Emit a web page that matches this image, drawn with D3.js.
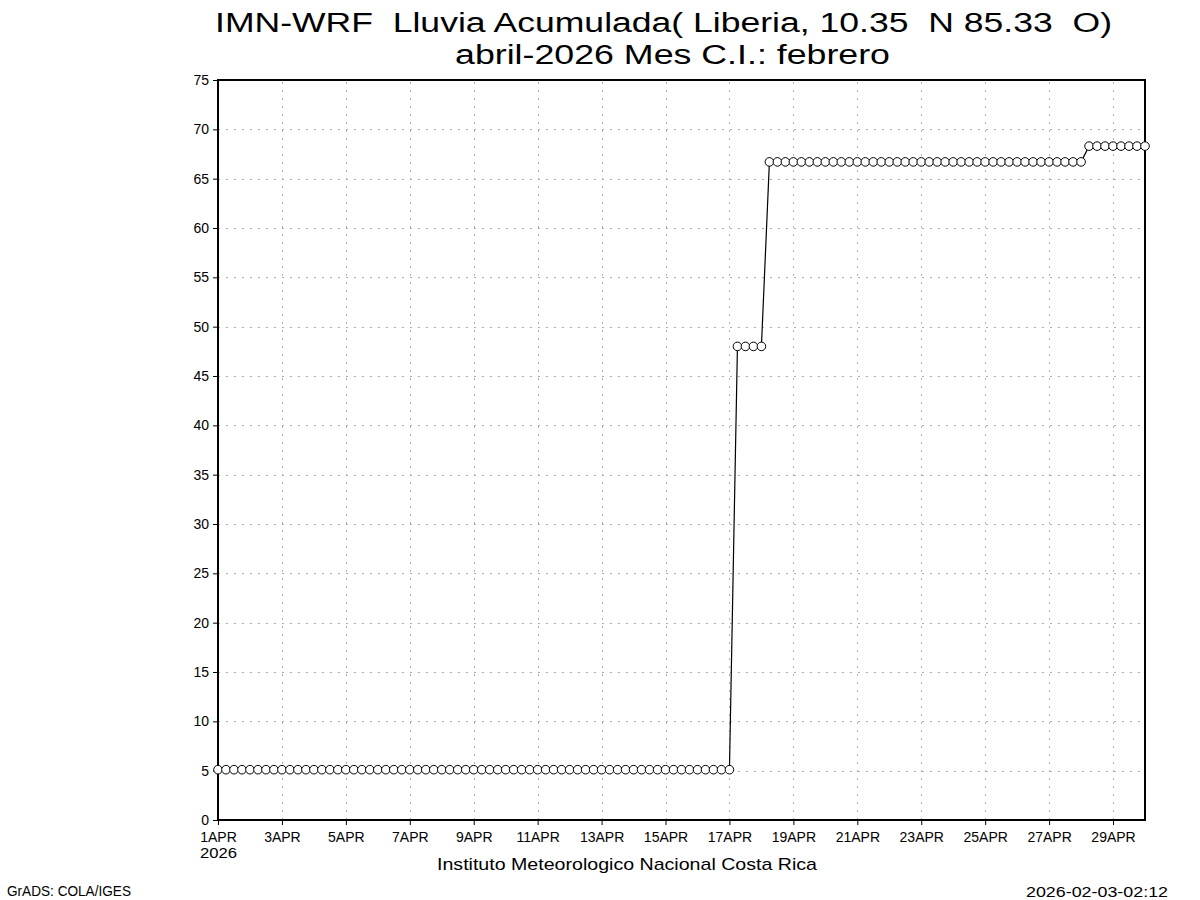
<!DOCTYPE html>
<html>
<head>
<meta charset="utf-8">
<script src="https://cdn.jsdelivr.net/npm/d3@7"></script>
<style>
  body { margin: 0; background: #fff; }
  svg text { font-family: "Liberation Sans Narrow", "Liberation Sans", "DejaVu Sans", sans-serif; fill: #000; white-space: pre; }
</style>
</head>
<body>
<svg id="chart" width="1200" height="900"></svg>
<script>
// ---- Data ----
const titleLines = ["IMN-WRF  Lluvia Acumulada( Liberia, 10.35  N 85.33  O)", "abril-2026 Mes C.I.: febrero"];
const startTime = "2026-04-01T00:00:00Z";
const endTime = "2026-04-30T00:00:00Z";
const stepHours = 6;
// Accumulated rain (mm), every 6 h from 1APR00 to 30APR00
const rainValues = [
  5.1,5.1,5.1,5.1, 5.1,5.1,5.1,5.1, 5.1,5.1,5.1,5.1, 5.1,5.1,5.1,5.1,
  5.1,5.1,5.1,5.1, 5.1,5.1,5.1,5.1, 5.1,5.1,5.1,5.1, 5.1,5.1,5.1,5.1,
  5.1,5.1,5.1,5.1, 5.1,5.1,5.1,5.1, 5.1,5.1,5.1,5.1, 5.1,5.1,5.1,5.1,
  5.1,5.1,5.1,5.1, 5.1,5.1,5.1,5.1, 5.1,5.1,5.1,5.1, 5.1,5.1,5.1,5.1,
  5.1, 48.0,48.0,48.0, 48.0,
  66.7,66.7,66.7, 66.7,66.7,66.7,66.7, 66.7,66.7,66.7,66.7, 66.7,66.7,66.7,66.7,
  66.7,66.7,66.7,66.7, 66.7,66.7,66.7,66.7, 66.7,66.7,66.7,66.7, 66.7,66.7,66.7,66.7,
  66.7,66.7,66.7,66.7, 66.7,66.7,66.7,66.7, 66.7,
  68.3,68.3,68.3, 68.3,68.3,68.3,68.3, 68.3
];
const xTickDays = [1,3,5,7,9,11,13,15,17,19,21,23,25,27,29];
const xTickLabels = ["1APR","3APR","5APR","7APR","9APR","11APR","13APR","15APR","17APR","19APR","21APR","23APR","25APR","27APR","29APR"];
const yTicks = [0,5,10,15,20,25,30,35,40,45,50,55,60,65,70,75];
const yearLabel = "2026";
const footerCenter = "Instituto Meteorologico Nacional Costa Rica";
const footerLeft = "GrADS: COLA/IGES";
const footerRight = "2026-02-03-02:12";

// ---- Layout ----
const svg = d3.select("#chart");
const L = 218, R = 1145, T = 80, B = 820;
const t0 = new Date(startTime), t1 = new Date(endTime);
const x = d3.scaleUtc().domain([t0, t1]).range([L, R]);
const y = d3.scaleLinear().domain([0, 75]).range([B, T]);
const data = rainValues.map((v, i) => ({ t: new Date(t0.getTime() + i * stepHours * 3600e3), v }));
const dayDate = d => new Date(Date.UTC(2026, 3, d));
const FONT = '"Liberation Sans Narrow","Liberation Sans",sans-serif';

// grid
const grid = svg.append("g").attr("stroke", "#b0b0b0").attr("stroke-width", 1).attr("stroke-dasharray", "2,6");
grid.selectAll("line.v").data(xTickDays.filter(d => d !== 1)).join("line")
  .attr("x1", d => Math.round(x(dayDate(d))) + 0.5).attr("x2", d => Math.round(x(dayDate(d))) + 0.5)
  .attr("y1", B).attr("y2", T);
grid.selectAll("line.h").data(yTicks.filter(d => d !== 0 && d !== 75)).join("line")
  .attr("y1", d => Math.round(y(d)) + 0.5).attr("y2", d => Math.round(y(d)) + 0.5)
  .attr("x1", L).attr("x2", R);

// axes
const yAxis = d3.axisLeft(y).tickValues(yTicks).tickSize(5).tickPadding(4).tickFormat(d3.format("d"));
const gy = svg.append("g").attr("transform", `translate(${L},0)`).call(yAxis);
gy.select(".domain").remove();
gy.selectAll("text").attr("font-size", 14).style("font-family", FONT);
gy.selectAll("line").attr("stroke", "#000");

const xAxis = d3.axisBottom(x).tickValues(xTickDays.map(dayDate)).tickSize(5).tickPadding(7)
  .tickFormat((d, i) => xTickLabels[i]);
const gx = svg.append("g").attr("transform", `translate(0,${B})`).call(xAxis);
gx.select(".domain").remove();
gx.selectAll("text").attr("font-size", 14).style("font-family", FONT);
gx.selectAll("line").attr("stroke", "#000");

// frame
svg.append("rect").attr("x", L).attr("y", T).attr("width", R - L).attr("height", B - T)
  .attr("fill", "none").attr("stroke", "#000").attr("stroke-width", 2);

// line
const line = d3.line().x(d => x(d.t)).y(d => y(d.v));
svg.append("path").datum(data).attr("d", line).attr("fill", "none").attr("stroke", "#000").attr("stroke-width", 1.2);

// markers
svg.append("g").selectAll("circle").data(data).join("circle")
  .attr("cx", d => x(d.t)).attr("cy", d => y(d.v)).attr("r", 4.3)
  .attr("fill", "#fff").attr("stroke", "#000").attr("stroke-width", 1);

// texts
svg.append("text").attr("x", 215).attr("y", 32).attr("font-size", 27)
  .attr("textLength", 897).attr("lengthAdjust", "spacingAndGlyphs").text(titleLines[0]);
svg.append("text").attr("x", 455).attr("y", 64).attr("font-size", 27)
  .attr("textLength", 435).attr("lengthAdjust", "spacingAndGlyphs").text(titleLines[1]);
svg.append("text").attr("x", 200).attr("y", 858).attr("font-size", 14)
  .attr("textLength", 37).attr("lengthAdjust", "spacingAndGlyphs").text(yearLabel);
svg.append("text").attr("x", 437).attr("y", 870).attr("font-size", 17)
  .attr("textLength", 380).attr("lengthAdjust", "spacingAndGlyphs").text(footerCenter);
svg.append("text").attr("x", 7).attr("y", 896).attr("font-size", 14)
  .attr("textLength", 124).attr("lengthAdjust", "spacingAndGlyphs").text(footerLeft);
svg.append("text").attr("x", 1026).attr("y", 897).attr("font-size", 14)
  .attr("textLength", 142).attr("lengthAdjust", "spacingAndGlyphs").text(footerRight);
</script>
</body>
</html>
